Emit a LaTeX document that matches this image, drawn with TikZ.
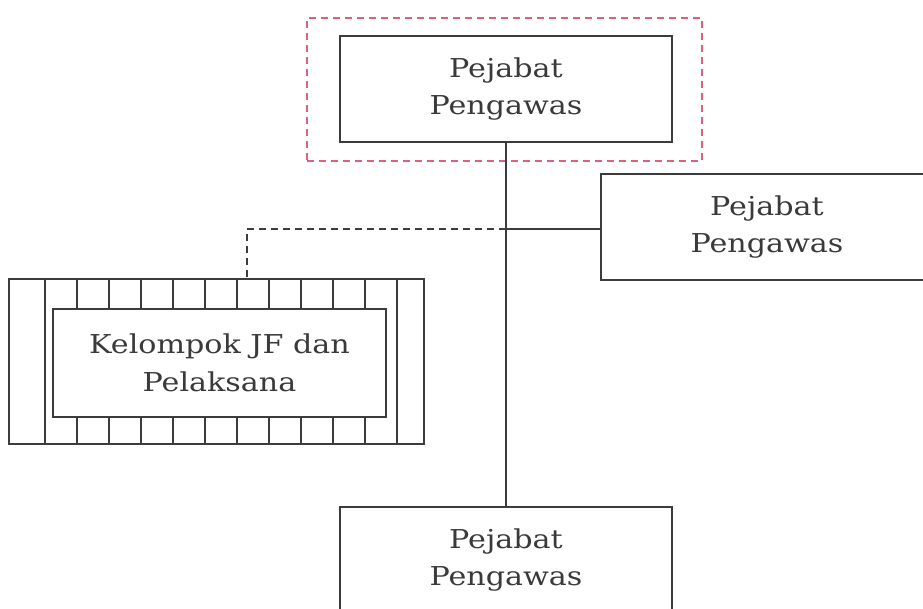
\documentclass[tikz,border=0pt]{standalone}
\usepackage{fontspec}
\newfontfamily\boxfont[FakeStretch=1.16]{DejaVu Serif}
\definecolor{ink}{HTML}{3C3C3C}
\definecolor{txt}{HTML}{3A3A3A}
\definecolor{redash}{HTML}{E0607A}
\tikzset{
  x=1pt, y=-1pt,
  line/.style={draw=ink, line width=1.7pt},
  boxnode/.style={line, rectangle, minimum width=332pt, minimum height=106pt, inner sep=0pt,
    align=center, text=txt, font=\boxfont\fontsize{26}{37.5}\selectfont},
  plain/.style={line, rectangle, inner sep=0pt},
  dashline/.style={draw=ink, line width=1.5pt, dash pattern=on 7pt off 5pt},
}
\begin{document}
\begin{tikzpicture}
\useasboundingbox (0,0) rectangle (923,608);
\clip (0,0) rectangle (923,608);
\fill[white] (0,0) rectangle (923,608);
% red dashed frame
\node[draw=redash, line width=1.5pt, dash pattern=on 7pt off 5pt, rectangle, inner sep=0pt,
  minimum width=395pt, minimum height=143pt] (frame) at (504.5,89.5) {};
% boxes
\node[boxnode] (top) at (506,89) {Pejabat\\Pengawas};
\node[boxnode] (right) at (767,227) {Pejabat\\Pengawas};
\node[boxnode] (bottom) at (506,560) {Pejabat\\Pengawas};
% hatched box
\node[plain, minimum width=415pt, minimum height=165pt] (hatch) at (216.5,361.5) {};
\node[boxnode, minimum width=333pt, minimum height=108pt] (inner) at (219.5,363) {Kelompok JF dan\\Pelaksana};
\draw[line] (45,279) -- (45,444);
\draw[line] (397,279) -- (397,444);
\foreach \hx in {77,109,141,173,205,237,269,301,333,365}{
  \draw[line] (\hx,279) -- (\hx,309);
  \draw[line] (\hx,417) -- (\hx,444);
}
% connectors
\coordinate (j) at (506,229);
\coordinate (d) at (247,229);
\draw[line] (top.south) -- (bottom.north);
\draw[line] (j) -- (j -| right.west);
\draw[dashline] (j) -- (d) -- (d |- hatch.north);
\end{tikzpicture}
\end{document}
